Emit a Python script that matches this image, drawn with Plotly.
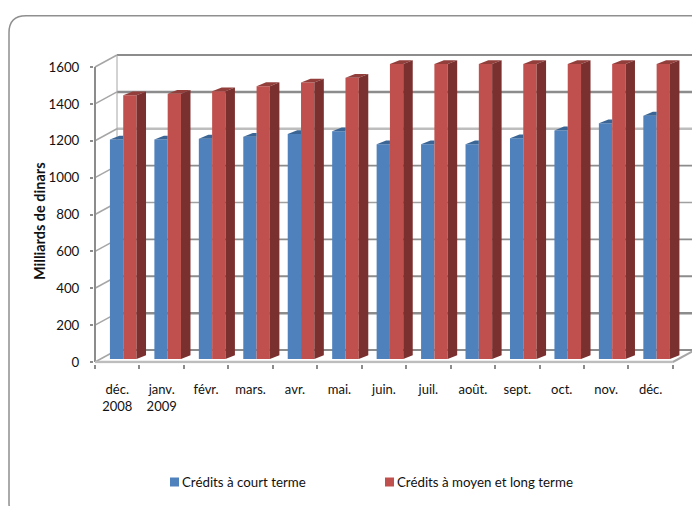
import plotly.graph_objects as go

categories = ["déc.<br>2008", "janv.<br>2009", "févr.", "mars.", "avr.", "mai.", "juin.",
              "juil.", "août.", "sept.", "oct.", "nov.", "déc."]
court_terme = [1190, 1190, 1195, 1205, 1220, 1235, 1165, 1165, 1165, 1197, 1240, 1278, 1320]
moyen_long_terme = [1430, 1438, 1452, 1480, 1500, 1525, 1600, 1600, 1600, 1600, 1600, 1600, 1600]
y_ticks = [0, 200, 400, 600, 800, 1000, 1200, 1400, 1600]
grid_colors = ["#8c8c8c", "#8c8c8c", "#8c8c8c", "#8c8c8c", "#a0a0a0", "#8c8c8c", "#bdbdbd", "#8c8c8c", "#8c8c8c"]
grid_widths = [2, 2.5, 2.2, 1.8, 1.6, 1.8, 2.5, 2.5, 2.2]
series_names = ["Crédits à court terme", "Crédits à moyen et long terme"]

W, H = 692, 506
HC = 500.0  # height used for the paper-fraction layout calculation
FONT = "Lato, 'Open Sans', sans-serif"
TEXT = "#111111"
AX = "#8c8c8c"

# pixel frame of the front plane
PX_X0, PX_STEP = 95.0, 44.45
PX_Y0, PX_Y1600 = 362.0, 67.0
PX_PER = (PX_Y0 - PX_Y1600) / 1600
# oblique projection in data units
WALL_DX, WALL_DY = 22 / PX_STEP, 12 / PX_PER
BAR_W = 13.3 / PX_STEP
BAR_DX, BAR_DY = 9.5 / PX_STEP, 3.8 / PX_PER
BAR_SHIFT_X, BAR_BASE = 6.0 / PX_STEP, 3.0 / PX_PER

x_lo = -1.0 / PX_STEP
x_hi = (W - PX_X0) / PX_STEP
y_lo = -1.5 / PX_PER
y_hi = (PX_Y0 - 54) / PX_PER

centers = [i + 0.5 for i in range(len(categories))]
fig = go.Figure()

# front faces: each bar stands on the floor, BAR_BASE above the front edge
fig.add_trace(go.Bar(x=centers, y=court_terme, base=BAR_BASE, width=BAR_W,
                     offset=BAR_SHIFT_X - BAR_W, name=series_names[0], marker=dict(color="#4f81bd", line_width=0)))
fig.add_trace(go.Bar(x=centers, y=moyen_long_terme, base=BAR_BASE, width=BAR_W,
                     offset=BAR_SHIFT_X, name=series_names[1], marker=dict(color="#c0504d", line_width=0)))

def poly(xs, ys, color):
    fig.add_trace(go.Scatter(x=xs, y=ys, mode="lines", fill="toself", fillcolor=color,
                             line=dict(width=0, color=color), hoverinfo="skip", showlegend=False))

# oblique faces derived from the values
for c, bv, rv in zip(centers, court_terme, moyen_long_terme):
    b, r = bv + BAR_BASE, rv + BAR_BASE
    x0 = c + BAR_SHIFT_X - BAR_W
    x1 = c + BAR_SHIFT_X
    x2 = x1 + BAR_W
    poly([x0, x1, x1, x0 + BAR_DX, x0], [b, b, b + BAR_DY, b + BAR_DY, b], "#3a6595")
    poly([x1, x2, x2 + BAR_DX, x1 + BAR_DX, x1], [r, r, r + BAR_DY, r + BAR_DY, r], "#923f3c")
    poly([x2, x2 + BAR_DX, x2 + BAR_DX, x2, x2],
         [BAR_BASE, BAR_BASE + BAR_DY, r + BAR_DY, r, BAR_BASE], "#7a302e")

shapes = []
n = len(categories)
def seg(x0, y0, x1, y1, color, width, dash="solid"):
    shapes.append(dict(type="line", xref="x", yref="y", x0=x0, y0=y0, x1=x1, y1=y1,
                       line=dict(color=color, width=width, dash=dash), layer="below"))

for v, col, wd in zip(y_ticks, grid_colors, grid_widths):
    seg(WALL_DX, v + WALL_DY, n + WALL_DX, v + WALL_DY, col, wd)   # back wall
    seg(0, v, WALL_DX, v + WALL_DY, "#a6a6a6", 1.5)                # side wall
seg(WALL_DX, WALL_DY, WALL_DX, 1600 + WALL_DY, "#a6a6a6", 1)
seg(0, 0, 0, 1600, AX, 2)
seg(0, 0, n, 0, "#bdbdbd", 2.5)
seg(n, 0, n + WALL_DX, WALL_DY, "#a6a6a6", 2)

# rounded chart frame, in paper space
fx0, fy0, fx1, fy1, rad = 9.0 / W, 1 - 15.7 / HC, 720.0 / W, 1 - 520.0 / HC, 17.0
rx, ry = rad / W, rad / HC
shapes.append(dict(type="path", xref="paper", yref="paper", layer="below",
                   path=f"M {fx0+rx} {fy0} L {fx1} {fy0} L {fx1} {fy1} L {fx0+rx} {fy1} "
                        f"Q {fx0} {fy1} {fx0} {fy1+ry} L {fx0} {fy0-ry} Q {fx0} {fy0} {fx0+rx} {fy0} Z",
                   line=dict(color="#8f8f8f", width=1.5), fillcolor="rgba(0,0,0,0)"))

# legend
legend_y = 482.0
legend_sw = [170.0, 385.0]
annotations = []
for sx, name, col in zip(legend_sw, series_names, ["#4f81bd", "#c0504d"]):
    shapes.append(dict(type="rect", xref="paper", yref="paper", x0=sx / W, x1=(sx + 9) / W,
                       y0=1 - (legend_y + 4.5) / HC, y1=1 - (legend_y - 4.5) / HC,
                       fillcolor=col, line_width=0))
    annotations.append(dict(xref="paper", yref="paper", x=(sx + 10) / W, y=1 - legend_y / HC, text=name,
                            showarrow=False, xanchor="left", yanchor="middle",
                            font=dict(family=FONT, size=13.3, color=TEXT)))
annotations.append(dict(xref="paper", yref="paper", x=40 / W, y=1 - 221 / HC, text="<b>Milliards de dinars</b>",
                        textangle=-90, showarrow=False, xanchor="center", yanchor="middle",
                        font=dict(family=FONT, size=14.5, color=TEXT)))

fig.update_layout(
    width=W, height=H, margin=dict(l=0, r=0, t=0, b=0), showlegend=False,
    paper_bgcolor="white", plot_bgcolor="white", barmode="overlay",
    shapes=shapes, annotations=annotations,
    font=dict(family=FONT, size=13, color=TEXT),
    xaxis=dict(range=[x_lo, x_hi], domain=[(PX_X0 + x_lo * PX_STEP) / W, 1], tickmode="array",
               tickvals=centers, ticktext=categories, ticks="outside", ticklen=14,
               tickcolor="rgba(0,0,0,0)", showgrid=False, zeroline=False, showline=False,
               tickfont=dict(family=FONT, size=13, color=TEXT),
               minor=dict(tickmode="array", tickvals=list(range(n + 1)), ticks="outside",
                          ticklen=4, tickcolor=AX, tickwidth=1.5, showgrid=False)),
    yaxis=dict(range=[y_lo, y_hi], domain=[1 - (PX_Y0 - y_lo * PX_PER) / HC, 1 - (PX_Y0 - y_hi * PX_PER) / HC],
               tickmode="array", tickvals=y_ticks, ticks="outside", ticklen=3, tickcolor=AX, tickwidth=1.5,
               showgrid=False, zeroline=False, showline=False, ticklabelstandoff=8,
               tickfont=dict(family=FONT, size=13.3, color=TEXT)),
)
fig.write_html("out.html", config={"displayModeBar": False},
               post_script="document.body.style.margin='0';document.documentElement.style.overflow='hidden';")
